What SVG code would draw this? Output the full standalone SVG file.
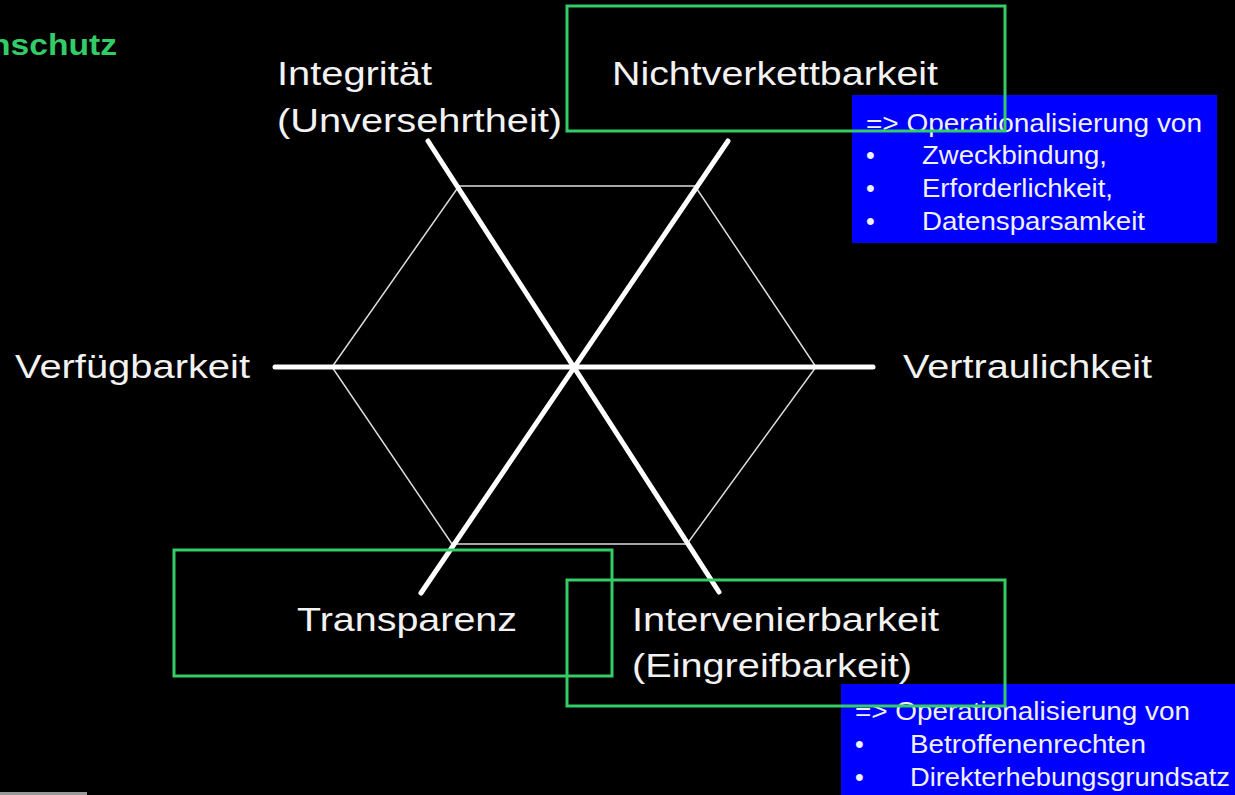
<svg xmlns="http://www.w3.org/2000/svg" width="1235" height="795" viewBox="0 0 1235 795">
<style>
.lbl{font-family:"Liberation Sans",Arial,sans-serif;font-size:34px;fill:#f2f2f2}
.bt{font-family:"Liberation Sans",Arial,sans-serif;font-size:25px;fill:#f0f0ff}
.blue{fill:#0000ff}
.green{fill:none;stroke:#33cc66;stroke-width:3}
.axis{stroke:#ffffff;stroke-width:5;stroke-linecap:round}
.hex{fill:none;stroke:#dddddd;stroke-width:1.5}
</style>
<rect x="0" y="0" width="1235" height="795" fill="#000"/>
<text x="-10" y="55" textLength="127" lengthAdjust="spacingAndGlyphs" style="font-family:'Liberation Sans',Arial,sans-serif;font-size:30px;font-weight:bold;fill:#33cc66">nschutz</text>
<g id="connectors">
<polygon class="hex" points="459,186 695,186 816,367 687,544 452,544 332,367"/>
<line class="axis" x1="275" y1="367" x2="873" y2="367"/>
<line class="axis" x1="428" y1="141" x2="719" y2="592"/>
<line class="axis" x1="728" y1="141" x2="421" y2="593"/>
</g>
<g id="integritaet">
<text class="lbl" x="277" y="85" textLength="155" lengthAdjust="spacingAndGlyphs">Integrität</text>
<text class="lbl" x="277" y="132" textLength="285" lengthAdjust="spacingAndGlyphs">(Unversehrtheit)</text>
</g>
<g id="verfuegbarkeit">
<text class="lbl" x="15" y="378" textLength="235" lengthAdjust="spacingAndGlyphs">Verfügbarkeit</text>
</g>
<g id="vertraulichkeit">
<text class="lbl" x="903" y="378" textLength="249" lengthAdjust="spacingAndGlyphs">Vertraulichkeit</text>
</g>
<g id="info1">
<rect class="blue" x="852" y="95" width="365" height="148"/>
<text class="bt" x="866" y="132" textLength="336" lengthAdjust="spacingAndGlyphs">=&gt; Operationalisierung von</text>
<text class="bt" x="866" y="164">•</text>
<text class="bt" x="866" y="197">•</text>
<text class="bt" x="866" y="230">•</text>
<text class="bt" x="922" y="164" textLength="185" lengthAdjust="spacingAndGlyphs">Zweckbindung,</text>
<text class="bt" x="922" y="197" textLength="191" lengthAdjust="spacingAndGlyphs">Erforderlichkeit,</text>
<text class="bt" x="922" y="230" textLength="223" lengthAdjust="spacingAndGlyphs">Datensparsamkeit</text>
</g>
<g id="info2">
<rect class="blue" x="841" y="684" width="394" height="111"/>
<text class="bt" x="855" y="720" textLength="335" lengthAdjust="spacingAndGlyphs">=&gt; Operationalisierung von</text>
<text class="bt" x="855" y="753">•</text>
<text class="bt" x="855" y="786">•</text>
<text class="bt" x="910" y="753" textLength="236" lengthAdjust="spacingAndGlyphs">Betroffenenrechten</text>
<text class="bt" x="910" y="786" textLength="320" lengthAdjust="spacingAndGlyphs">Direkterhebungsgrundsatz</text>
</g>
<g id="nichtverkettbarkeit">
<rect class="green" x="567" y="6" width="438" height="125"/>
<text class="lbl" x="612" y="85" textLength="326" lengthAdjust="spacingAndGlyphs">Nichtverkettbarkeit</text>
</g>
<g id="transparenz">
<rect class="green" x="174" y="550" width="438" height="126"/>
<text class="lbl" x="297" y="631" textLength="220" lengthAdjust="spacingAndGlyphs">Transparenz</text>
</g>
<g id="intervenierbarkeit">
<rect class="green" x="567" y="580" width="438" height="126"/>
<text class="lbl" x="632" y="631" textLength="307" lengthAdjust="spacingAndGlyphs">Intervenierbarkeit</text>
<text class="lbl" x="632" y="677" textLength="280" lengthAdjust="spacingAndGlyphs">(Eingreifbarkeit)</text>
</g>
<rect x="0" y="792" width="87" height="3" fill="#999"/>
</svg>
